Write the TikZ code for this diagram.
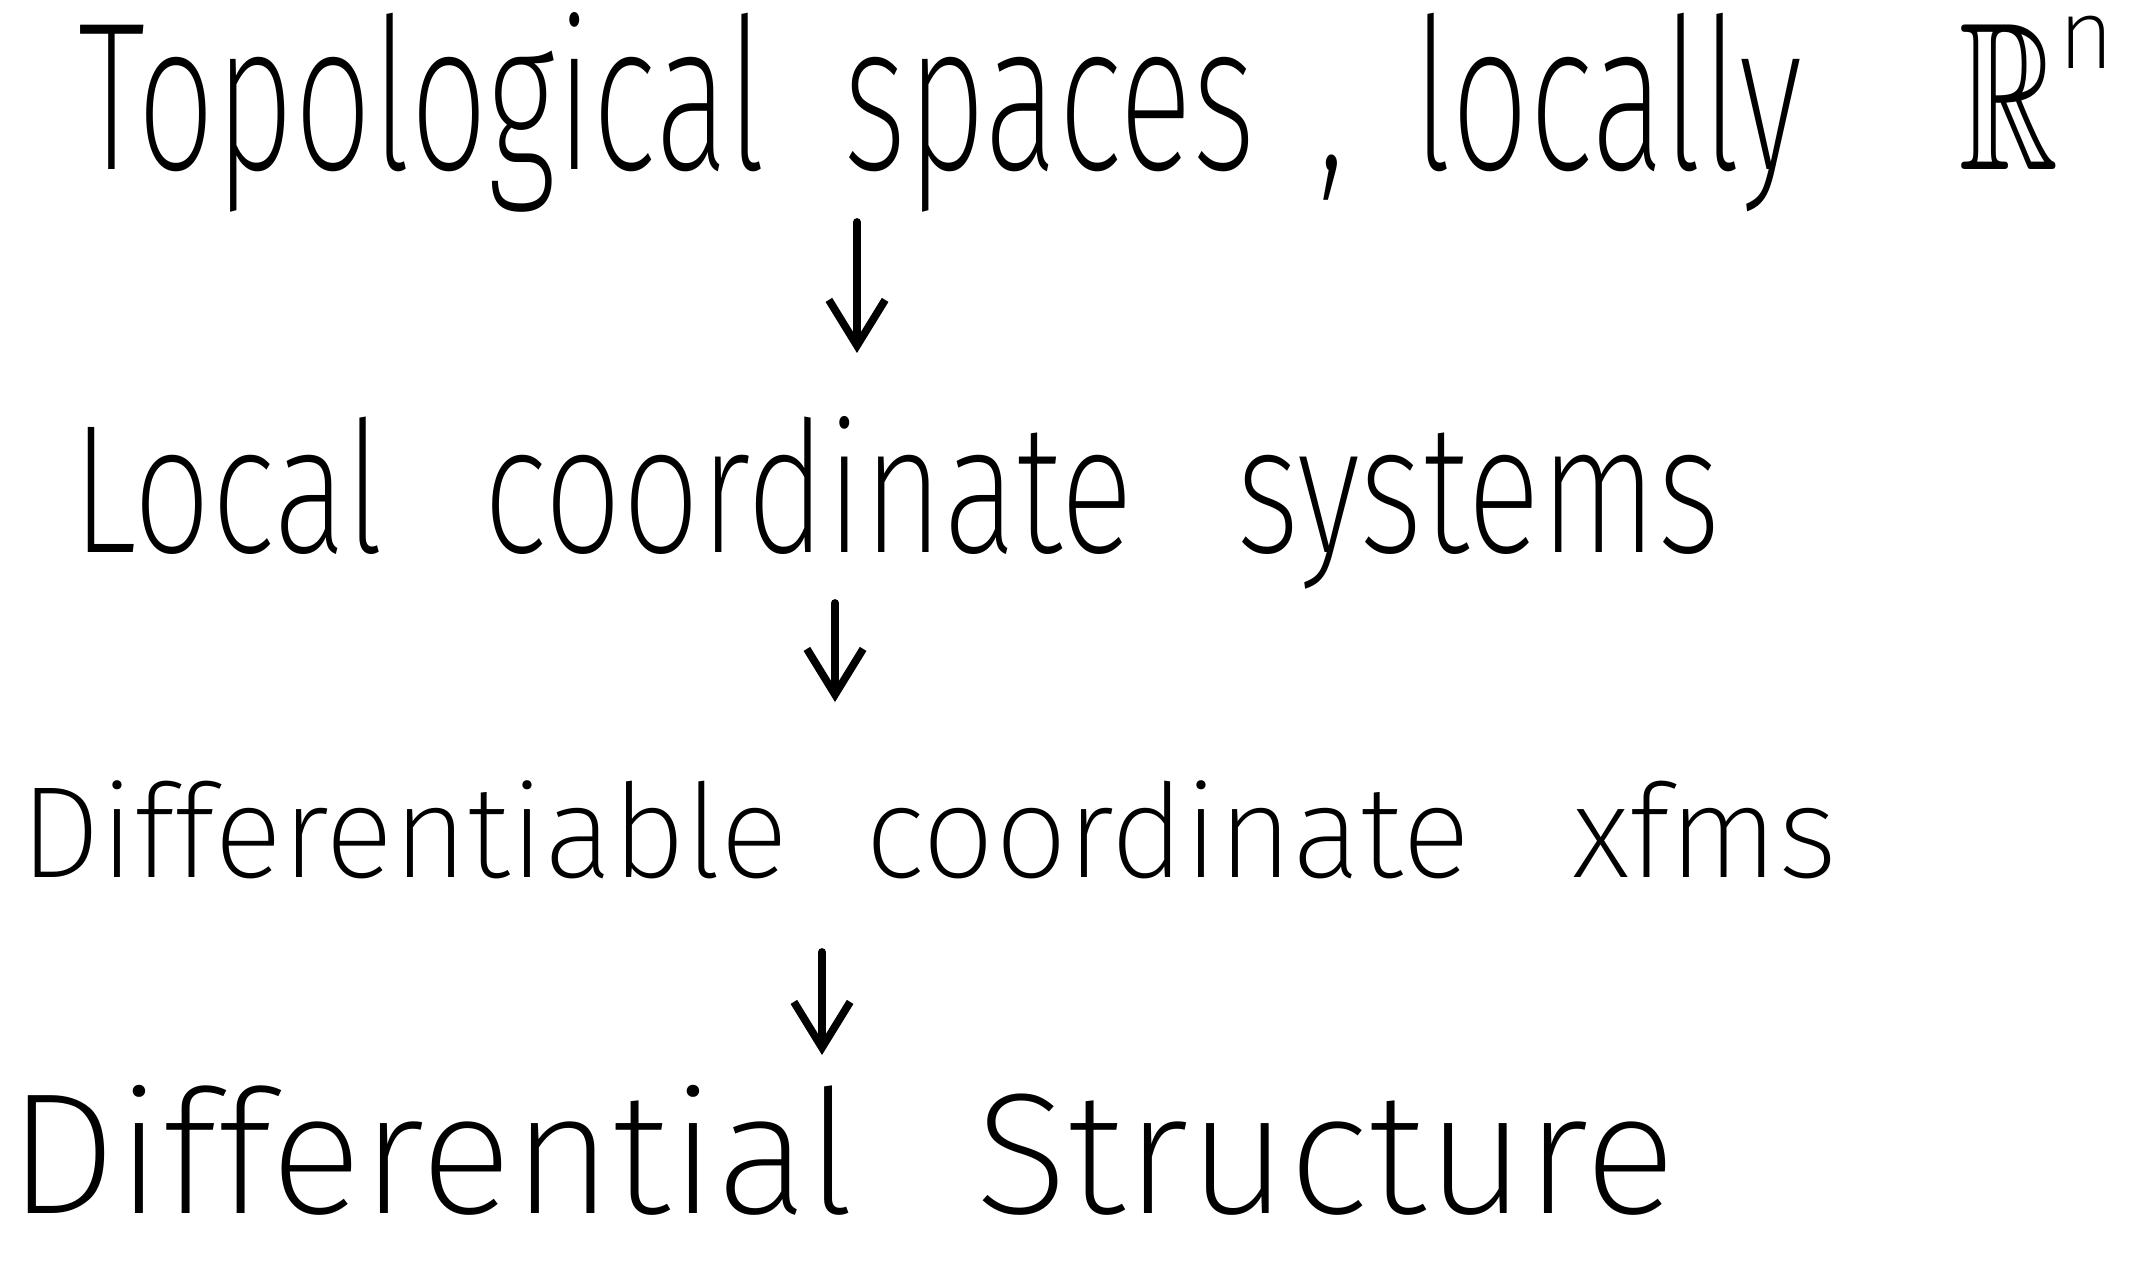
\documentclass[tikz,border=0pt]{standalone}
\usepackage{amsmath}
\usepackage{amssymb}
\usepackage{fontspec}
\IfFontExistsTF{Fira Sans ExtraLight}
    {\setmainfont{Fira Sans ExtraLight}}
    {\IfFontExistsTF{Fira Sans Light}
        {\setmainfont{Fira Sans Light}}
        {\setmainfont{Fira Sans}}}
\usetikzlibrary{arrows.meta}

\begin{document}
\begin{tikzpicture}[x=0.01cm,y=-0.01cm,
    hand/.style={anchor=base west,inner sep=0pt},
    down/.style={-{Straight Barb[length=13pt,width=16pt]},line width=2.2pt,line cap=round,line join=round}]
    \useasboundingbox (0,0) rectangle (2139,1261);

    % the four stages, top to bottom
    \node[hand,xscale=0.65] (topo) at (78,170)
        {\fontsize{60}{66}\selectfont Topological\hspace{0.57em}spaces\hspace{0.45em},\hspace{0.5em}locally\hspace{1.15em}$\mathbb{R}$\raisebox{29pt}{\fontsize{28}{30}\selectfont\scalebox{1.5}[1]{n}}};
    \node[hand,xscale=0.75] (lcs) at (72,552)
        {\fontsize{52}{58}\selectfont Local\hspace{0.72em}coordinate\hspace{0.75em}systems};
    \node[hand,xscale=0.98] (dct) at (20,877)
        {\fontsize{37}{43}\selectfont Differentiable\hspace{0.6em}coordinate\hspace{0.8em}xfms};
    \node[hand,xscale=1.0] (dstruct) at (8,1213)
        {\fontsize{49}{55}\selectfont Differential\hspace{0.7em}Structure};

    % arrows between them
    \coordinate (a1) at (857,222);
    \coordinate (b1) at (857,353);
    \coordinate (a2) at (835,603);
    \coordinate (b2) at (835,702);
    \coordinate (a3) at (822,952);
    \coordinate (b3) at (822,1055);
    \draw[down] (a1) -- (b1);
    \draw[down] (a2) -- (b2);
    \draw[down] (a3) -- (b3);
\end{tikzpicture}
\end{document}
